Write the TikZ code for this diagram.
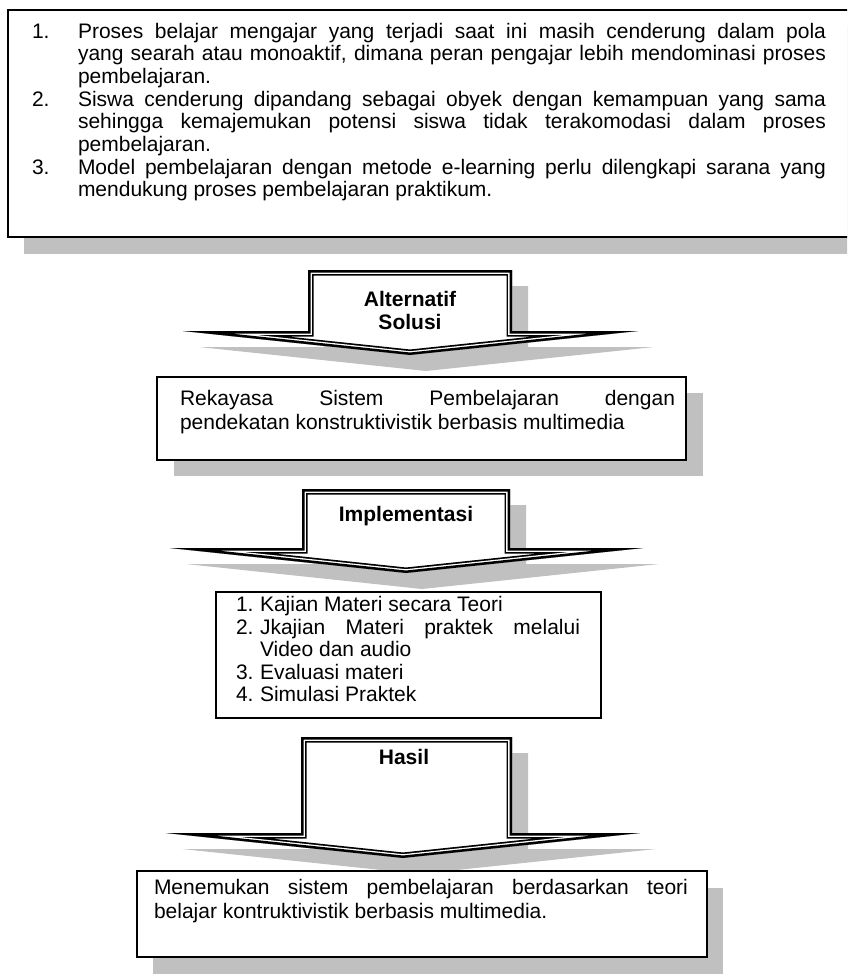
\documentclass[tikz,border=0pt]{standalone}
\usepackage{fontspec}
\setmainfont{Liberation Sans}
\definecolor{shadowgray}{RGB}{192,192,192}
\newcommand\fs{\fontsize{21}{23}\selectfont}
\tikzset{
  txt/.style={anchor=base west, inner sep=0pt, outer sep=0pt, font=\fs},
  lbl/.style={anchor=base, inner sep=0pt, outer sep=0pt, font=\fs\bfseries},
  boxline/.style={draw=black, line width=1.8pt, fill=white},
  shadowbox/.style={fill=shadowgray, draw=none}
}
% #1 L, #2 R, #3 top, #4 wing y, #5 left tip x, #6 right tip x, #7 point x, #8 point y
\newcommand\dblarrow[8]{%
  \fill[shadowgray, shift={(16,16)}] (#1,#3) -- (#2,#3) -- (#2,#4) -- (#6,#4) -- (#7,#8) -- (#5,#4) -- (#1,#4) -- cycle;
  \begin{scope}
    \fill[white] (#1,#3) -- (#2,#3) -- (#2,#4) -- (#6,#4) -- (#7,#8) -- (#5,#4) -- (#1,#4) -- cycle;
    \clip (#1,#3) -- (#2,#3) -- (#2,#4) -- (#6,#4) -- (#7,#8) -- (#5,#4) -- (#1,#4) -- cycle;
    \draw[line width=11pt] (#1,#3) -- (#2,#3) -- (#2,#4) -- (#6,#4) -- (#7,#8) -- (#5,#4) -- (#1,#4) -- cycle;
    \draw[line width=7.6pt, white] (#1,#3) -- (#2,#3) -- (#2,#4) -- (#6,#4) -- (#7,#8) -- (#5,#4) -- (#1,#4) -- cycle;
    \draw[line width=5pt] (#1,#3) -- (#2,#3) -- (#2,#4) -- (#6,#4) -- (#7,#8) -- (#5,#4) -- (#1,#4) -- cycle;
  \end{scope}}
\begin{document}
\begin{tikzpicture}[x=1pt,y=-1pt]
\useasboundingbox (0,0) rectangle (847,978);
\clip (0,0) rectangle (847,978);
\fill[white] (0,0) rectangle (847,978);

% ---------- top box ----------
\fill[shadowgray] (24,26) rectangle (880,254);
\draw[boxline] (8,10) rectangle (864,237);
\node[txt] (n1) at (32,38) {1.};
\node[txt] (t1) at (78,38) {\hbox to 748pt{Proses belajar mengajar yang terjadi saat ini masih cenderung dalam pola}};
\node[txt] (t2) at (78,60.7) {\hbox to 748pt{yang searah atau monoaktif, dimana peran pengajar lebih mendominasi proses}};
\node[txt] (t3) at (78,83.4) {pembelajaran.};
\node[txt] (n2) at (32,106.1) {2.};
\node[txt] (t4) at (78,106.1) {\hbox to 748pt{Siswa cenderung dipandang sebagai obyek dengan kemampuan yang sama}};
\node[txt] (t5) at (78,128.8) {\hbox to 748pt{sehingga kemajemukan potensi siswa tidak terakomodasi dalam proses}};
\node[txt] (t6) at (78,151.5) {pembelajaran.};
\node[txt] (n3) at (32,174.2) {3.};
\node[txt] (t7) at (78,174.2) {\hbox to 748pt{Model pembelajaran dengan metode e-learning perlu dilengkapi sarana yang}};
\node[txt] (t8) at (78,196.9) {mendukung proses pembelajaran praktikum.};

% ---------- arrow 1 ----------
\dblarrow{308}{512}{270}{331}{183}{638}{410}{355}
\node[lbl] (a1) at (410,306) {Alternatif};
\node[lbl] (a1b) at (410,329) {Solusi};

% ---------- Rekayasa box ----------
\fill[shadowgray] (174,393) rectangle (703,476);
\draw[boxline] (157,377) rectangle (686,460);
\node[txt] (r1) at (180,405) {\hbox to 495pt{Rekayasa Sistem Pembelajaran dengan}};
\node[txt] (r2) at (180,429) {pendekatan konstruktivistik berbasis multimedia};

% ---------- arrow 2 ----------
\dblarrow{302}{510}{489}{548}{170}{643}{406}{573}
\node[lbl] (a2) at (406,521) {Implementasi};

% ---------- Kajian box ----------
\draw[boxline] (216,592) rectangle (601,718);
\node[txt] (k1n) at (236,611.5) {1.};
\node[txt] (k1) at (260,611.5) {Kajian Materi secara Teori};
\node[txt] (k2n) at (236,634) {2.};
\node[txt] (k2) at (260,634) {\hbox to 320pt{Jkajian Materi praktek melalui}};
\node[txt] (k3) at (260,656.5) {Video dan audio};
\node[txt] (k4n) at (236,679) {3.};
\node[txt] (k4) at (260,679) {Evaluasi materi};
\node[txt] (k5n) at (236,701.5) {4.};
\node[txt] (k5) at (260,701.5) {Simulasi Praktek};

% ---------- arrow 3 ----------
\dblarrow{301}{512}{737}{833}{166}{640}{403}{858}
\node[lbl] (a3) at (404,764) {Hasil};

% ---------- Hasil box ----------
\fill[shadowgray] (153,888) rectangle (723,974);
\draw[boxline] (137,871) rectangle (707,957);
\node[txt] (h1) at (154,894) {\hbox to 534pt{Menemukan sistem pembelajaran berdasarkan teori}};
\node[txt] (h2) at (154,918) {belajar kontruktivistik berbasis multimedia.};
\end{tikzpicture}
\end{document}
